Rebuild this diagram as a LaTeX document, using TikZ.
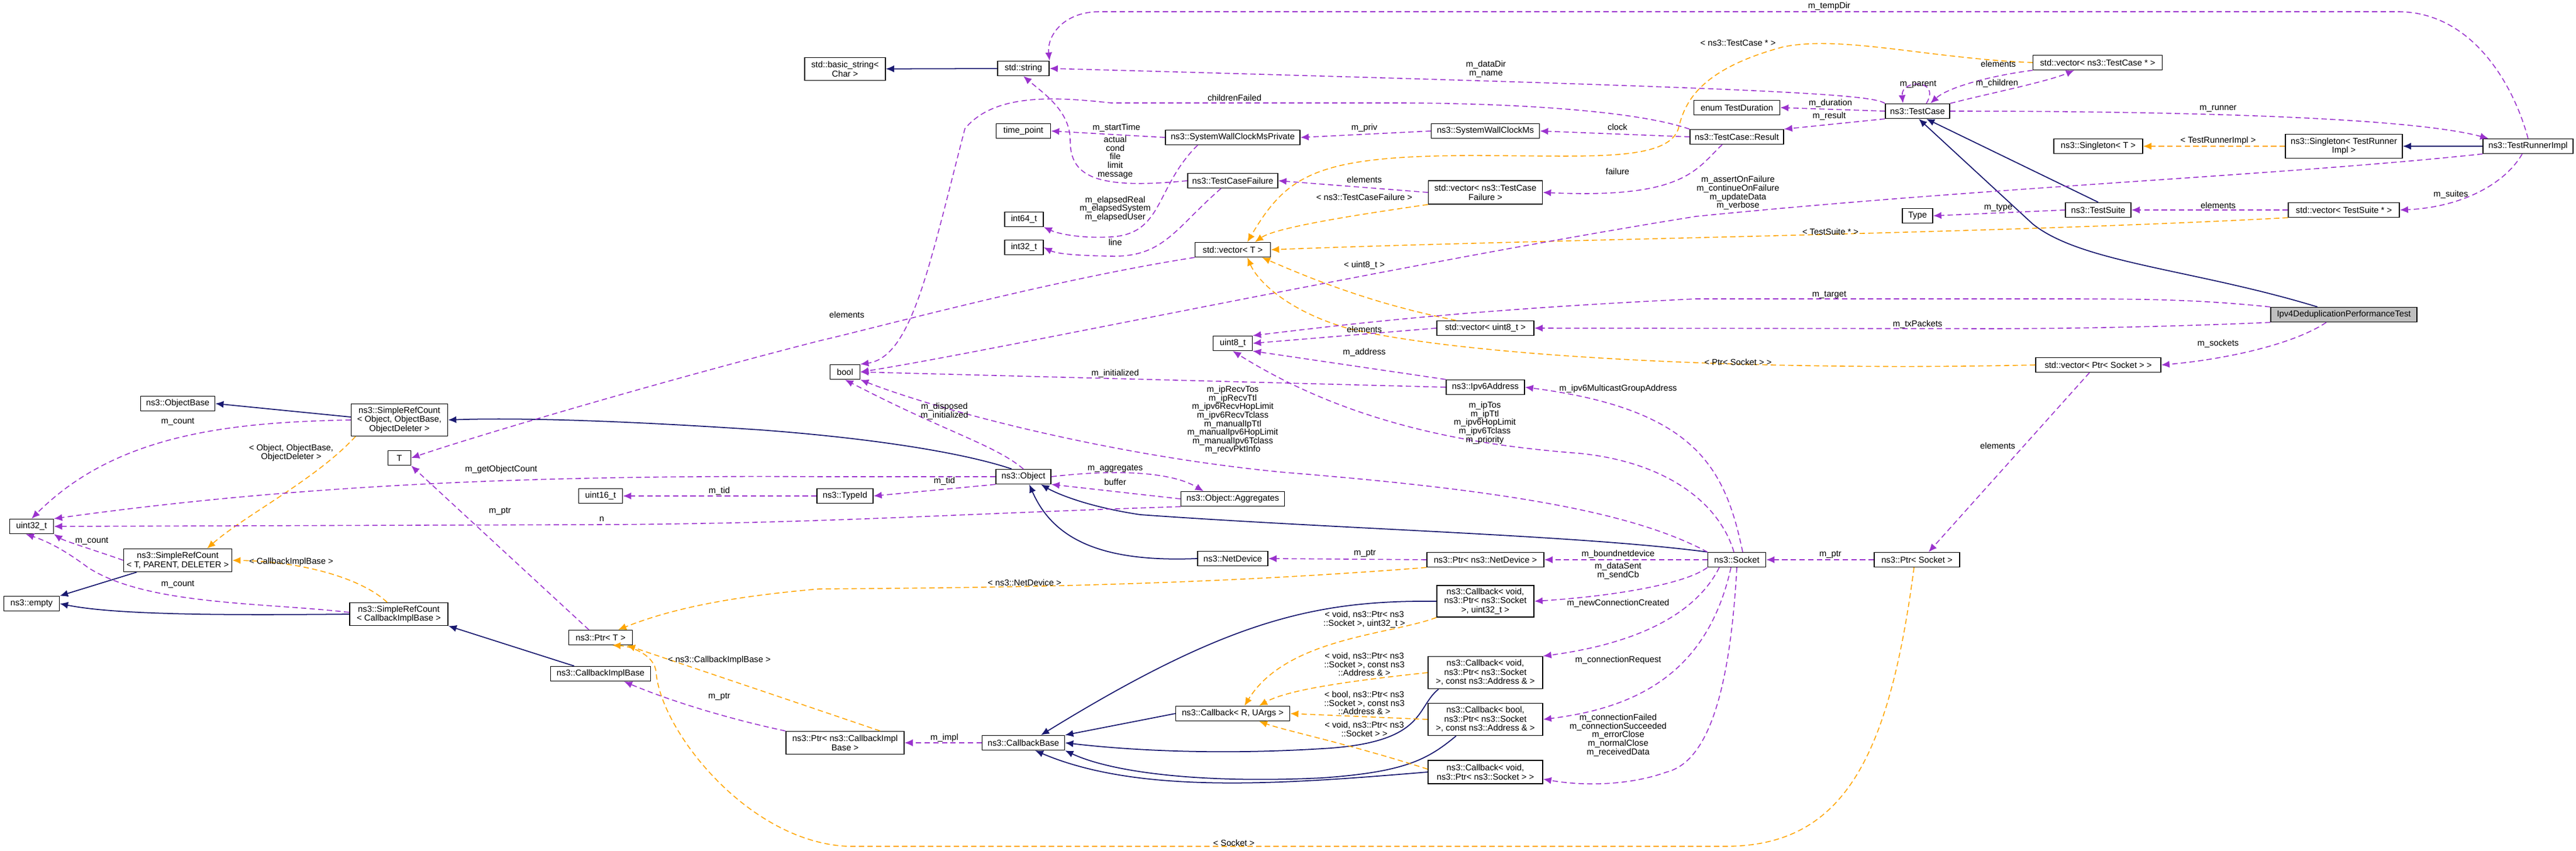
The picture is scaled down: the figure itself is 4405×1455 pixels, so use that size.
\documentclass[tikz,border=0pt]{standalone}
\usepackage{fontspec}
\setmainfont{Liberation Sans}
\usetikzlibrary{arrows.meta}
\definecolor{usecol}{HTML}{9A32CD}
\definecolor{tmplcol}{HTML}{FFA500}
\definecolor{inhcol}{HTML}{191970}
\begin{document}
\begin{tikzpicture}[x=0.01cm,y=-0.01cm,
    cls/.style={draw=black,line width=0.4pt,fill=white,inner sep=0pt,align=center,
                minimum height=0.25cm,font=\fontsize{4.2}{4.4}\selectfont},
    lbl/.style={inner sep=0pt,align=center,font=\fontsize{4.2}{4.15}\selectfont},
    use/.style={draw=usecol,line width=0.45pt,dash pattern=on 2.6pt off 1.6pt,-{Latex[length=4pt,width=3.4pt]}},
    tmpl/.style={draw=tmplcol,line width=0.45pt,dash pattern=on 2.6pt off 1.6pt,-{Latex[length=4pt,width=3.4pt]}},
    inh/.style={draw=inhcol,line width=0.5pt,-{Latex[length=4pt,width=3.4pt]}}
    ]
    \useasboundingbox (0,0) rectangle (4405,1455);

    % classes, top part
    \node[cls,minimum width=1.38cm,minimum height=0.39cm] (basicstr) at (1445,118) {std::basic\_string<\\Char >};
    \node[cls,minimum width=0.88cm] (string) at (1750,117) {std::string};
    \node[cls,minimum width=0.93cm] (tp) at (1750,224) {time\_point};
    \node[cls,minimum width=2.30cm] (swcmp) at (2108,235) {ns3::SystemWallClockMsPrivate};
    \node[cls,minimum width=1.85cm] (swcm) at (2540,224) {ns3::SystemWallClockMs};
    \node[cls,minimum width=1.47cm] (td) at (2970,184) {enum TestDuration};
    \node[cls,minimum width=1.60cm] (res) at (2970,234) {ns3::TestCase::Result};
    \node[cls,minimum width=1.54cm] (tcf) at (2108,309) {ns3::TestCaseFailure};
    \node[cls,minimum width=1.95cm,minimum height=0.40cm] (vtcf) at (2540,329) {std::vector< ns3::TestCase\\Failure >};
    \node[cls,minimum width=0.66cm] (i64) at (1751,375) {int64\_t};
    \node[cls,minimum width=0.66cm] (i32) at (1751,423) {int32\_t};
    \node[cls,minimum width=1.29cm] (vt) at (2108,427) {std::vector< T >};
    \node[cls,minimum width=2.21cm] (vtc) at (3587,107) {std::vector< ns3::TestCase * >};
    \node[cls,minimum width=1.10cm] (tc) at (3279,190) {ns3::TestCase};
    \node[cls,minimum width=1.52cm] (st) at (3588,250) {ns3::Singleton< T >};
    \node[cls,minimum width=2.00cm,minimum height=0.41cm] (stri) at (4008,250) {ns3::Singleton< TestRunner\\Impl >};
    \node[cls,minimum width=1.54cm] (tri) at (4323,250) {ns3::TestRunnerImpl};
    \node[cls,minimum width=0.52cm] (type) at (3279,369) {Type};
    \node[cls,minimum width=1.12cm] (ts) at (3588,359) {ns3::TestSuite};
    \node[cls,minimum width=1.90cm] (vts) at (4008,359) {std::vector< TestSuite * >};
    \node[cls,minimum width=2.50cm,fill=black!25] (dedup) at (4008,538) {Ipv4DeduplicationPerformanceTest};
    \node[cls,minimum width=2.14cm] (vps) at (3588,624) {std::vector< Ptr< Socket > >};
    \node[cls,minimum width=0.99cm] (sock) at (2970,957) {ns3::Socket};
    \node[cls,minimum width=1.46cm] (ps) at (3278,957) {ns3::Ptr< Socket >};

    % classes, middle part
    \node[cls,minimum width=0.67cm] (uint8) at (2108,587) {uint8\_t};
    \node[cls,minimum width=1.66cm] (vu8) at (2540,561) {std::vector< uint8\_t >};
    \node[cls,minimum width=0.51cm] (bool) at (1445,636) {bool};
    \node[cls,minimum width=1.34cm] (ipv6) at (2540,662) {ns3::Ipv6Address};
    \node[cls,minimum width=0.94cm] (obj) at (1750,815) {ns3::Object};
    \node[cls,minimum width=1.77cm] (agg) at (2108,853) {ns3::Object::Aggregates};
    \node[cls,minimum width=1.20cm] (nd) at (2108,955) {ns3::NetDevice};
    \node[cls,minimum width=2.00cm] (pnd) at (2540,957) {ns3::Ptr< ns3::NetDevice >};
    \node[cls,minimum width=1.66cm,minimum height=0.54cm] (cbs32) at (2540,1028) {ns3::Callback< void,\\ns3::Ptr< ns3::Socket\\>, uint32\_t >};
    \node[cls,minimum width=1.95cm] (cbru) at (2108,1220) {ns3::Callback< R, UArgs >};
    \node[cls,minimum width=1.96cm,minimum height=0.55cm] (cva) at (2540,1150) {ns3::Callback< void,\\ns3::Ptr< ns3::Socket\\>, const ns3::Address \& >};
    \node[cls,minimum width=1.96cm,minimum height=0.55cm] (cba) at (2540,1230) {ns3::Callback< bool,\\ns3::Ptr< ns3::Socket\\>, const ns3::Address \& >};
    \node[cls,minimum width=1.96cm,minimum height=0.40cm] (cvs) at (2540,1320) {ns3::Callback< void,\\ns3::Ptr< ns3::Socket > >};
    \node[cls,minimum width=1.41cm] (cbb) at (1750,1270) {ns3::CallbackBase};
    \node[cls,minimum width=2.02cm,minimum height=0.39cm] (pcib) at (1445,1270) {ns3::Ptr< ns3::CallbackImpl\\Base >};
    \node[cls,minimum width=0.96cm] (tid) at (1445,848) {ns3::TypeId};

    % classes, left part
    \node[cls,minimum width=1.27cm] (ob) at (304,690) {ns3::ObjectBase};
    \node[cls,minimum width=1.65cm,minimum height=0.55cm] (srco) at (683,718) {ns3::SimpleRefCount\\< Object, ObjectBase,\\ObjectDeleter >};
    \node[cls,minimum width=0.39cm] (t) at (683,783) {T};
    \node[cls,minimum width=0.75cm] (u16) at (1027,848) {uint16\_t};
    \node[cls,minimum width=0.75cm] (uint32) at (54,900) {uint32\_t};
    \node[cls,minimum width=1.85cm,minimum height=0.39cm] (srctpd) at (304,958) {ns3::SimpleRefCount\\< T, PARENT, DELETER >};
    \node[cls,minimum width=0.95cm] (empty) at (54,1032) {ns3::empty};
    \node[cls,minimum width=1.68cm,minimum height=0.39cm] (srccb) at (682,1050) {ns3::SimpleRefCount\\< CallbackImplBase >};
    \node[cls,minimum width=1.09cm] (ptrt) at (1027,1090) {ns3::Ptr< T >};
    \node[cls,minimum width=1.71cm] (cib) at (1027,1152) {ns3::CallbackImplBase};

    % inheritance
    \draw[inh] (string) -- (basicstr);
    \draw[inh] (tri.west) -- (stri.east);
    \draw[inh] (ts.north) -- ([xshift=0.15cm]tc.south);
    \draw[inh] ([xshift=-0.45cm]dedup.north) .. controls (3750,460) and (3560,450) .. (3476,383) -- ([xshift=0.02cm]tc.south);
    \draw[inh] ([yshift=0.05cm]srco.west) -- (ob.east);
    \draw[inh] ([xshift=-0.2cm]obj.north) .. controls (1650,775) and (1500,750) .. (1300,735) .. controls (1000,715) and (850,715) .. (srco.east);
    \draw[inh] ([xshift=-0.7cm]srctpd.south) -- (empty.north east);
    \draw[inh] (srccb.west) .. controls (400,1052) and (200,1052) .. (empty.east);
    \draw[inh] ([xshift=-0.45cm]cib.north) -- (srccb.south east);
    \draw[inh] (nd.west) .. controls (1880,962) and (1800,920) .. ([xshift=0.1cm]obj.south);
    \draw[inh] (sock.north west) .. controls (2700,915) and (2300,905) .. (1950,880) .. controls (1850,865) and (1800,840) .. ([xshift=0.3cm]obj.south);
    \draw[inh] (cbs32.west) .. controls (2250,1026) and (2100,1060) .. ([xshift=0.3cm]cbb.north);
    \draw[inh] (cbru.west) -- (cbb.north east);
    \draw[inh] ([xshift=-0.8cm]cva.south) .. controls (2420,1210) and (2440,1270) .. (2261,1280) .. controls (2100,1290) and (1950,1285) .. (cbb.east);
    \draw[inh] ([xshift=-0.5cm]cba.south) .. controls (2440,1300) and (2400,1320) .. (2261,1330) .. controls (2050,1340) and (1900,1320) .. (cbb.south east);
    \draw[inh] (cvs.west) .. controls (2200,1340) and (1950,1360) .. ([xshift=0.2cm]cbb.south);

    % template instances
    \draw[tmpl] (stri.west) -- (st.east);
    \draw[tmpl] (vts.south west) .. controls (3400,400) and (2600,410) .. (vt.east);
    \draw[tmpl] (vtc.west) .. controls (3300,100) and (3150,60) .. (3050,80) .. controls (2900,120) and (2880,180) .. (2870,220) .. controls (2850,280) and (2700,265) .. (2500,266) .. controls (2250,268) and (2200,300) .. ([xshift=0.25cm]vt.north);
    \draw[tmpl] (vtcf.south west) .. controls (2300,370) and (2180,390) .. ([xshift=0.38cm]vt.north);
    \draw[tmpl] ([xshift=-0.5cm]vu8.north) .. controls (2350,520) and (2250,480) .. ([xshift=0.5cm]vt.south);
    \draw[tmpl] (vps.west) .. controls (3000,635) and (2500,610) .. (2300,560) .. controls (2200,530) and (2150,480) .. ([xshift=0.25cm]vt.south);
    \draw[tmpl] ([xshift=-0.75cm]srco.south) .. controls (540,820) and (420,880) .. ([xshift=0.5cm]srctpd.north);
    \draw[tmpl] ([xshift=-0.2cm]srccb.north) .. controls (620,990) and (520,960) .. (srctpd.east);
    \draw[tmpl] (pnd.south west) .. controls (2000,1005) and (1600,1005) .. (1400,1007) .. controls (1250,1020) and (1150,1040) .. ([xshift=0.3cm]ptrt.north);
    \draw[tmpl] ([xshift=0.6cm]pcib.north) .. controls (1300,1180) and (1150,1130) .. ([xshift=0.45cm]ptrt.south);
    \draw[tmpl] ([xshift=-0.05cm]ps.south) .. controls (3230,1300) and (3150,1447) .. (2950,1447) -- (1450,1447) .. controls (1280,1440) and (1130,1250) .. (1122,1150) .. controls (1120,1120) and (1080,1105) .. ([xshift=0.2cm]ptrt.south);
    \draw[tmpl] (cbs32.south west) .. controls (2380,1085) and (2200,1090) .. ([xshift=0.2cm]cbru.north);
    \draw[tmpl] (cva.west) .. controls (2300,1165) and (2200,1180) .. ([xshift=0.45cm]cbru.north);
    \draw[tmpl] (cba.west) -- (cbru.east);
    \draw[tmpl] ([yshift=0.05cm]cvs.west) .. controls (2300,1270) and (2200,1250) .. ([xshift=0.45cm]cbru.south);

    % usage, top part
    \draw[use] (tri.north) .. controls (4300,150) and (4230,20) .. (4100,20) -- (1880,20) .. controls (1820,20) and (1790,60) .. (string.north east);
    \draw[use] (tc.north west) .. controls (3200,160) and (3000,150) .. (string.east);
    \draw[use] (tcf.west) .. controls (1870,325) and (1830,300) .. (1830,240) .. controls (1830,190) and (1785,160) .. (string.south);
    \draw[use] (res.north west) .. controls (2800,190) and (2600,177) .. (2400,176) -- (1900,176) .. controls (1800,165) and (1700,160) .. (1650,220) .. controls (1590,450) and (1560,610) .. (bool.north east);
    \draw[use] (swcmp.west) -- (tp.east);
    \draw[use] (swcm.west) -- (swcmp.east);
    \draw[use] (res.west) -- (swcm.east);
    \draw[use] ([xshift=-0.6cm]swcmp.south) .. controls (1975,320) and (1990,400) .. (1900,405) .. controls (1850,408) and (1810,400) .. (i64.south east);
    \draw[use] ([xshift=-0.2cm]tcf.south) .. controls (2010,390) and (1990,440) .. (1900,438) .. controls (1850,437) and (1810,435) .. (i32.east);
    \draw[use] (vtcf.west) -- (tcf.east);
    \draw[use] ([xshift=-0.25cm]res.south) .. controls (2900,290) and (2880,340) .. (vtcf.east);
    \draw[use] (tc.west) -- (td.east);
    \draw[use] (tc.south west) -- (res.north east);
    \draw[use] ([xshift=0.15cm]tc.north) .. controls (3320,135) and (3250,135) .. ([xshift=-0.25cm]tc.north);
    \draw[use] (tc.north east) .. controls (3400,160) and (3500,140) .. ([xshift=-0.4cm]vtc.south);
    \draw[use] (vtc.south west) .. controls (3400,130) and (3330,150) .. ([xshift=0.22cm]tc.north);
    \draw[use] (tc.east) .. controls (3600,190) and (4100,195) .. ([xshift=0.1cm]tri.north west);
    \draw[use] (tri.south west) .. controls (3900,300) and (3400,320) .. (2900,370) .. controls (2400,450) and (1700,600) .. (bool.east);
    \draw[use] (ts.west) -- (type.east);
    \draw[use] (vts.west) -- (ts.east);
    \draw[use] ([xshift=-0.1cm]tri.south) .. controls (4280,320) and (4200,355) .. (vts.east);
    \draw[use] (dedup.north west) .. controls (3750,511) and (3650,511) .. (3500,511) -- (2900,511) .. controls (2500,530) and (2300,555) .. (uint8.north east);
    \draw[use] (dedup.south west) .. controls (3800,555) and (3600,562) .. (3400,562) -- (vu8.east);
    \draw[use] ([xshift=-0.3cm]dedup.south) .. controls (3920,590) and (3800,615) .. (vps.east);
    \draw[use] ([xshift=-0.15cm]vps.south) -- ([xshift=0.2cm]ps.north);
    \draw[use] (ps.west) -- (sock.east);

    % usage, middle part
    \draw[use] (vt.south west) .. controls (1800,478) and (1500,560) .. (1400,583) .. controls (1100,660) and (800,750) .. (t.east);
    \draw[use] (vu8.west) -- (uint8.east);
    \draw[use] (ipv6.north west) -- (uint8.south east);
    \draw[use] ([xshift=-0.05cm]sock.north) .. controls (2940,860) and (2850,790) .. (2700,775) .. controls (2500,760) and (2300,720) .. (uint8.south);
    \draw[use] (ipv6.west) -- (bool.east);
    \draw[use] (obj.north) .. controls (1700,760) and (1620,740) .. (bool.south);
    \draw[use] (sock.north west) .. controls (2800,880) and (2600,840) .. (2200,808) .. controls (1900,780) and (1600,700) .. (bool.south east);
    \draw[use] ([xshift=0.1cm]sock.north) .. controls (2950,800) and (2900,700) .. (ipv6.east);
    \draw[use] (obj.west) -- (1400,815) .. controls (900,812) and (500,830) .. (uint32.north east);
    \draw[use] (obj.south west) -- (tid.east);
    \draw[use] (tid.west) -- (u16.east);
    \draw[use] (obj.east) .. controls (1900,803) and (2000,805) .. ([xshift=-0.5cm]agg.north);
    \draw[use] (agg.west) -- (obj.south east);
    \draw[use] (agg.south west) .. controls (1600,880) and (1400,895) .. (1027,897) -- (uint32.east);
    \draw[use] (pnd.west) -- (nd.east);
    \draw[use] (sock.west) -- (pnd.east);
    \draw[use] (sock.south west) .. controls (2880,1000) and (2750,1020) .. (cbs32.east);
    \draw[use] ([xshift=-0.3cm]sock.south) .. controls (2900,1050) and (2800,1100) .. (cva.north east);
    \draw[use] ([xshift=-0.1cm]sock.south) .. controls (2920,1150) and (2800,1210) .. (cba.east);
    \draw[use] (sock.south) .. controls (2960,1150) and (2930,1300) .. (2850,1320) .. controls (2780,1345) and (2700,1343) .. ([yshift=-0.12cm]cvs.east);
    \draw[use] (cbb.west) -- (pcib.east);
    \draw[use] (pcib.north west) .. controls (1250,1230) and (1150,1200) .. ([xshift=0.4cm]cib.south);

    % usage, left part
    \draw[use] (srco.west) .. controls (400,722) and (200,740) .. (uint32.north);
    \draw[use] ([xshift=-0.2cm]ptrt.north) -- (t.south east);
    \draw[use] (srctpd.west) .. controls (160,940) and (110,925) .. (uint32.south east);
    \draw[use] ([yshift=0.03cm]srccb.west) .. controls (450,1030) and (250,1035) .. (150,970) .. controls (110,940) and (80,925) .. ([xshift=-0.1cm]uint32.south);

    % labels
    \node[lbl] (l1) at (3128,11) {m\_tempDir};
    \node[lbl] (l2) at (2972,73) {< ns3::TestCase * >};
    \node[lbl] (l3) at (3417,109) {elements};
    \node[lbl] (l4) at (3280,144) {m\_parent};
    \node[lbl] (l5) at (3415,143) {m\_children};
    \node[lbl] (l6) at (3130,177) {m\_duration};
    \node[lbl] (l7) at (3128,199) {m\_result};
    \node[lbl] (l8) at (3793,186) {m\_runner};
    \node[lbl] (l9) at (3793,241) {< TestRunnerImpl >};
    \node[lbl] (l10) at (2972,330) {m\_assertOnFailure\\m\_continueOnFailure\\m\_updateData\\m\_verbose};
    \node[lbl] (l11) at (3417,355) {m\_type};
    \node[lbl] (l12) at (3793,351) {elements};
    \node[lbl] (l13) at (4191,333) {m\_suites};
    \node[lbl] (l14) at (3130,396) {< TestSuite * >};
    \node[lbl] (l15) at (3128,504) {m\_target};
    \node[lbl] (l16) at (3279,555) {m\_txPackets};
    \node[lbl] (l17) at (3793,588) {m\_sockets};
    \node[lbl] (l18) at (2972,619) {< Ptr< Socket > >};
    \node[lbl] (l19) at (3416,762) {elements};
    \node[lbl] (l20) at (3130,948) {m\_ptr};
    \node[lbl] (l21) at (2541,118) {m\_dataDir\\m\_name};
    \node[lbl] (l22) at (2111,167) {childrenFailed};
    \node[lbl] (l23) at (1909,219) {m\_startTime};
    \node[lbl] (l24) at (1907,269) {actual\\cond\\file\\limit\\message};
    \node[lbl] (l25) at (2333,219) {m\_priv};
    \node[lbl] (l26) at (2766,217) {clock};
    \node[lbl] (l27) at (2333,307) {elements};
    \node[lbl] (l28) at (2766,293) {failure};
    \node[lbl] (l29) at (2333,337) {< ns3::TestCaseFailure >};
    \node[lbl] (l30) at (1907,357) {m\_elapsedReal\\m\_elapsedSystem\\m\_elapsedUser};
    \node[lbl] (l31) at (1907,414) {line};
    \node[lbl] (l32) at (2333,454) {< uint8\_t >};
    \node[lbl] (l33) at (1448,538) {elements};
    \node[lbl] (l34) at (2333,563) {elements};
    \node[lbl] (l35) at (2333,603) {m\_address};
    \node[lbl] (l36) at (1907,639) {m\_initialized};
    \node[lbl] (l37) at (2108,718) {m\_ipRecvTos\\m\_ipRecvTtl\\m\_ipv6RecvHopLimit\\m\_ipv6RecvTclass\\m\_manualIpTtl\\m\_manualIpv6HopLimit\\m\_manualIpv6Tclass\\m\_recvPktInfo};
    \node[lbl] (l38) at (2539,723) {m\_ipTos\\m\_ipTtl\\m\_ipv6HopLimit\\m\_ipv6Tclass\\m\_priority};
    \node[lbl] (l39) at (2767,665) {m\_ipv6MulticastGroupAddress};
    \node[lbl] (l40) at (1615,703) {m\_disposed\\m\_initialized};
    \node[lbl] (l41) at (1907,801) {m\_aggregates};
    \node[lbl] (l42) at (1907,824) {buffer};
    \node[lbl] (l43) at (1615,823) {m\_tid};
    \node[lbl] (l44) at (2334,946) {m\_ptr};
    \node[lbl] (l45) at (2767,948) {m\_boundnetdevice};
    \node[lbl] (l46) at (2767,976) {m\_dataSent\\m\_sendCb};
    \node[lbl] (l47) at (1752,996) {< ns3::NetDevice >};
    \node[lbl] (l48) at (2767,1032) {m\_newConnectionCreated};
    \node[lbl] (l49) at (2333,1059) {< void, ns3::Ptr< ns3\\::Socket >, uint32\_t >};
    \node[lbl] (l50) at (2333,1136) {< void, ns3::Ptr< ns3\\::Socket >, const ns3\\::Address \& >};
    \node[lbl] (l51) at (2767,1129) {m\_connectionRequest};
    \node[lbl] (l52) at (2333,1202) {< bool, ns3::Ptr< ns3\\::Socket >, const ns3\\::Address \& >};
    \node[lbl] (l53) at (2333,1247) {< void, ns3::Ptr< ns3\\::Socket > >};
    \node[lbl] (l54) at (2767,1257) {m\_connectionFailed\\m\_connectionSucceeded\\m\_errorClose\\m\_normalClose\\m\_receivedData};
    \node[lbl] (l55) at (1615,1262) {m\_impl};
    \node[lbl] (l56) at (2110,1441) {< Socket >};
    \node[lbl] (l57) at (304,721) {m\_count};
    \node[lbl] (l58) at (498,774) {< Object, ObjectBase,\\ObjectDeleter >};
    \node[lbl] (l59) at (857,803) {m\_getObjectCount};
    \node[lbl] (l60) at (1230,840) {m\_tid};
    \node[lbl] (l61) at (855,874) {m\_ptr};
    \node[lbl] (l62) at (1029,888) {n};
    \node[lbl] (l63) at (157,925) {m\_count};
    \node[lbl] (l64) at (498,961) {< CallbackImplBase >};
    \node[lbl] (l65) at (304,999) {m\_count};
    \node[lbl] (l66) at (1230,1129) {< ns3::CallbackImplBase >};
    \node[lbl] (l67) at (1230,1191) {m\_ptr};
\end{tikzpicture}
\end{document}
